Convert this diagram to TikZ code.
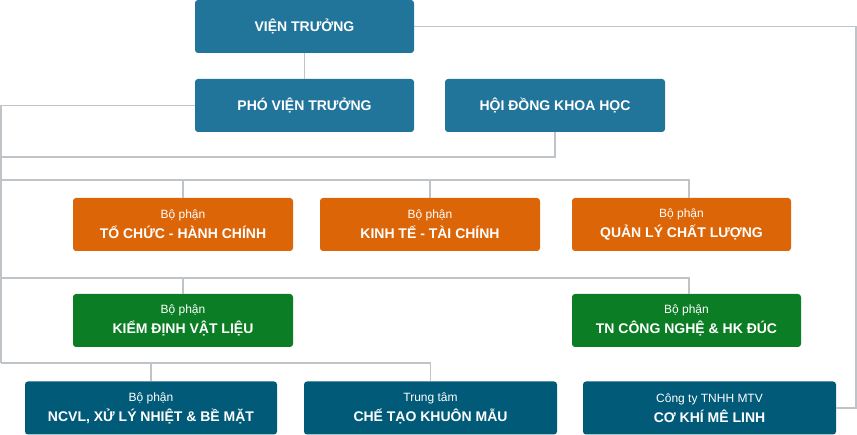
\documentclass[tikz,border=0pt]{standalone}
\usepackage{fontspec}
\setmainfont{Liberation Sans}
\usepackage{tikz}
\usetikzlibrary{calc}

\definecolor{topblue}{HTML}{22759A}
\definecolor{deptorange}{HTML}{DC6508}
\definecolor{deptgreen}{HTML}{0B7D24}
\definecolor{unitblue}{HTML}{005A78}
\definecolor{linkgray}{HTML}{BFC4C8}

\tikzset{
  box/.style={rounded corners=3pt, text=white, inner sep=0pt, align=center,
    minimum height=53pt, font=\fontsize{14}{20}\selectfont\bfseries},
  lead/.style={box, fill=topblue, minimum width=219pt},
  dept/.style={box, fill=deptorange, minimum width=220pt},
  lab/.style={box, fill=deptgreen},
  unit/.style={box, fill=unitblue, minimum width=253pt},
  link/.style={draw=linkgray, line width=1.2pt}
}
\newcommand{\sub}[1]{{\fontsize{12}{20}\selectfont\mdseries #1}\\}

\begin{document}
\begin{tikzpicture}[x=1pt, y=-1pt]
      \useasboundingbox (0,0) rectangle (857,435);
      % leadership
      \node[lead] (vt) at (304.5, 26.5) {VIỆN TRƯỞNG};
      \node[lead] (pvt) at (304.5, 105.5) {PHÓ VIỆN TRƯỞNG};
      \node[lead, minimum width=220pt] (hdkh) at (555, 105.5) {HỘI ĐỒNG KHOA HỌC};
      % departments
      \node[dept] (tchc) at (183, 224.5) {\sub{Bộ phận}TỔ CHỨC - HÀNH CHÍNH};
      \node[dept] (ktc) at (430, 224.5) {\sub{Bộ phận}KINH TẾ - TÀI CHÍNH};
      \node[dept, minimum width=219pt] (qlcl) at (681.5, 224.5) {\sub{Bộ phận}QUẢN LÝ CHẤT LƯỢNG};
      % laboratories
      \node[lab, minimum width=220pt] (kdvl) at (183, 320.5) {\sub{Bộ phận}KIỂM ĐỊNH VẬT LIỆU};
      \node[lab, minimum width=229pt] (tncn) at (686.5, 320.5) {\sub{Bộ phận}TN CÔNG NGHỆ \& HK ĐÚC};
      % units
      \node[unit, minimum width=252pt] (ncvl) at (151, 408) {\sub{Bộ phận}NCVL, XỬ LÝ NHIỆT \& BỀ MẶT};
      \node[unit] (ctkm) at (430.5, 408) {\sub{Trung tâm}CHẾ TẠO KHUÔN MẪU};
      \node[unit] (ckml) at (709.5, 408) {\sub{Công ty TNHH MTV}CƠ KHÍ MÊ LINH};
      % bus coordinates
      \coordinate (edgeR) at (856, 0);
      \coordinate (busR) at (689, 0);
      \coordinate (b1) at (1, 157);
      \coordinate (b2) at (1, 180);
      \coordinate (b3) at (1, 278);
      \coordinate (b4) at (1, 363);
      % connectors
      \draw[link] (vt) -- (pvt);
      \draw[link] (vt.east) -- (vt.east -| edgeR) |- (ckml.east);
      \draw[link] (pvt.west) -| (b4);
      \draw[link] (b1) -| (hdkh.south);
      \draw[link] (b2) -- (b2 -| busR) -- (busR |- qlcl.north);
      \draw[link] (tchc.north) -- (tchc.north |- b2);
      \draw[link] (ktc.north) -- (ktc.north |- b2);
      \draw[link] (b3) -- (b3 -| busR) -- (busR |- tncn.north);
      \draw[link] (kdvl.north) -- (kdvl.north |- b3);
      \draw[link] (b4) -| (ctkm.north);
      \draw[link] (ncvl.north) -- (ncvl.north |- b4);
\end{tikzpicture}
\end{document}
